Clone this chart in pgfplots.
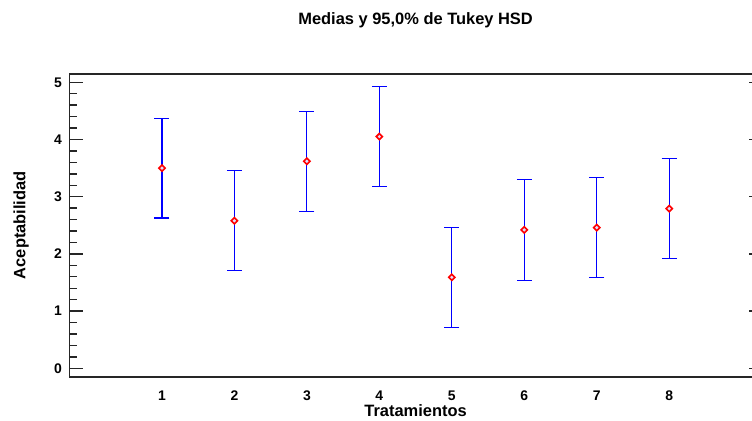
\documentclass[border=0pt]{standalone}
\usepackage{pgfplots}
\pgfplotsset{compat=1.18}
\usepackage{pgfplotstable}
\usepackage{fontspec}
\setmainfont{Liberation Sans}

\pgfplotstableread{
x y e
1 3.50 0.872
2 2.58 0.877
3 3.62 0.872
4 4.05 0.875
5 1.59 0.877
6 2.42 0.878
7 2.46 0.873
8 2.79 0.875
}\datatable

\begin{document}
\begin{tikzpicture}
\begin{axis}[
  scale only axis, width=692.2bp, height=303bp,
  xmin=-0.276, xmax=9.276, ymin=-0.147, ymax=5.150,
  xtick={1,...,8}, ytick={0,...,5}, minor y tick num=4,
  tick align=inside,
  xtick style={draw=none},
  ytick pos=both,
  major tick length=13bp, minor tick length=7bp,
  ytick style={draw=black!85, line width=1.4bp},
  axis line style={draw=black!85, line width=1.7bp},
  /pgf/number format/assume math mode=true,
  tick label style={font=\bfseries\fontsize{14}{16}\selectfont},
  yticklabel style={inner sep=0pt, xshift=-7.3bp},
  xticklabel style={inner sep=0pt, yshift=-14.2bp},
  title={Medias y 95,0\% de Tukey HSD},
  title style={at={(axis description cs:0.5,1.1442)}, anchor=base, inner sep=0pt, font=\bfseries\fontsize{16.5}{19}\selectfont},
  xlabel={Tratamientos},
  xlabel style={at={(axis description cs:0.5,-0.132)}, anchor=base, inner sep=0pt, font=\bfseries\fontsize{16.5}{19}\selectfont},
  ylabel={Aceptabilidad},
  ylabel style={at={(axis description cs:-0.0636,0.5)}, anchor=base, inner sep=0pt, font=\bfseries\fontsize{16.5}{19}\selectfont},
]
\addplot[draw=none, mark=none,
  error bars/.cd, y dir=both, y explicit, error mark=-,
  error mark options={rotate=90, draw=blue, mark size=7.5bp, line width=1.1bp},
  error bar style={draw=blue, line width=1.1bp}]
  table[x=x, y=y, y error=e]{\datatable};
\addplot[only marks, mark=square*, mark size=2.2bp,
  mark options={rotate=45, draw=red, fill=blue!12, line width=1.6bp}]
  table[x=x, y=y]{\datatable};
\coordinate (bl) at (rel axis cs:0,0);
\coordinate (tr) at (rel axis cs:1,1);
\end{axis}
\pgfresetboundingbox
\path[use as bounding box] ([xshift=-69.5bp,yshift=-44.3bp]bl) rectangle ([xshift=-9.7bp,yshift=73.7bp]tr);
\end{tikzpicture}
\end{document}
